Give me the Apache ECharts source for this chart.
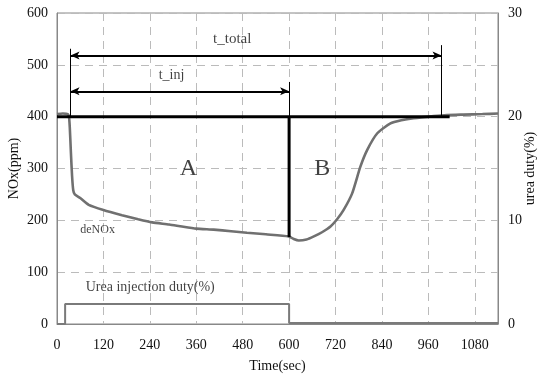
<!DOCTYPE html>
<html>
<head>
<meta charset="utf-8">
<script src="https://cdn.jsdelivr.net/npm/echarts@6/dist/echarts.min.js"></script>
<style>
  html, body { margin: 0; padding: 0; background: #fff; }
  #chart { width: 542px; height: 380px; }
</style>
</head>
<body>
<div id="chart"></div>
<script>
// NOx concentration (ppm) over time (sec)
const noxTime = [0, 15, 28, 31, 33, 36, 39, 42, 46, 60, 82, 120, 168, 210, 246, 290, 323, 360, 405, 450, 491, 540, 599, 612, 625, 645, 664, 685, 707, 725, 741, 763, 784, 802, 828, 862, 890, 922, 974, 1008, 1050, 1100, 1140];
const noxValue = [405, 406, 405, 400, 380, 330, 285, 258, 250, 243, 230, 220, 210, 202, 196, 192, 188, 184, 182, 179, 176, 173, 169, 164, 161, 163, 169, 177, 188, 203, 220, 252, 303, 336, 368, 387, 393, 397, 401, 403, 404, 405, 406];

// Urea injection duty (%) over time (sec)
const dutyTime = [0, 21, 21, 600, 600, 1140];
const dutyValue = [0, 0, 1.93, 1.93, 0.1, 0.1];

// Axis ticks
const xTicks = { min: 0, max: 1140, interval: 120 };
const yLeftTicks = { min: 0, max: 600, interval: 100 };
const yRightTicks = { min: 0, max: 30, interval: 10 };

// Reference levels and interval markers (sec / ppm)
const baseLevel = 400;
const baseEnd = 1015;
const injStart = 35;
const injEnd = 600;
const totalEnd = 994;
const noxAtInjEnd = 168;
const arrowTotalY = 518;
const arrowInjY = 449;
const tickTopStart = 531;
const tickTopInj = 467;
const tickTopTotal = 538;

// Text annotations [time, NOx, text]
const annotations = [
  [453, 549, 't_total'],
  [296, 480, 't_inj'],
  [340, 300, 'A'],
  [686, 300, 'B'],
  [105, 181, 'deNOx'],
  [241, 70, 'Urea injection duty(%)']
];

const serif = '"Liberation Serif", "DejaVu Serif", serif';
const annoFont = { 'A': 24, 'B': 24, 'deNOx': 12, 't_total': 15, 't_inj': 14 };

const chart = echarts.init(document.getElementById('chart'), null, { renderer: 'canvas' });

const zip = (a, b) => a.map((v, i) => [v, b[i]]);

const option = {
  animation: false,
  backgroundColor: '#fff',
  grid: {
    left: 57, right: 44, top: 13, bottom: 56,
    show: true, borderColor: '#888', borderWidth: 1,
    outerBoundsMode: 'none', containLabel: false
  },
  xAxis: {
    type: 'value',
    min: xTicks.min, max: xTicks.max, interval: xTicks.interval,
    name: 'Time(sec)', nameLocation: 'middle', nameGap: 35, nameMoveOverlap: false,
    nameTextStyle: { fontFamily: serif, fontSize: 14, color: '#111' },
    axisLine: { show: true, lineStyle: { color: '#888' } },
    axisTick: { show: false },
    axisLabel: { fontFamily: serif, fontSize: 14, color: '#111', margin: 14, showMaxLabel: false, formatter: v => String(v) },
    splitLine: { show: true, lineStyle: { color: '#bbb', type: [8, 6], width: 1 } }
  },
  yAxis: [
    {
      type: 'value',
      min: yLeftTicks.min, max: yLeftTicks.max, interval: yLeftTicks.interval,
      name: 'NOx(ppm)', nameLocation: 'middle', nameRotate: 90, nameGap: 36, nameMoveOverlap: false,
      nameTextStyle: { fontFamily: serif, fontSize: 14, color: '#111' },
      axisLine: { show: true, lineStyle: { color: '#888' } },
      axisTick: { show: false },
      axisLabel: { fontFamily: serif, fontSize: 14, color: '#111', margin: 9 },
      splitLine: { show: true, lineStyle: { color: '#bbb', type: [8, 6], width: 1 } }
    },
    {
      type: 'value',
      min: yRightTicks.min, max: yRightTicks.max, interval: yRightTicks.interval,
      position: 'right',
      name: 'urea duty(%)', nameLocation: 'middle', nameRotate: 90, nameGap: 25, nameMoveOverlap: false,
      nameTextStyle: { fontFamily: serif, fontSize: 14, color: '#111' },
      axisLine: { show: true, lineStyle: { color: '#888' } },
      axisTick: { show: false },
      axisLabel: { fontFamily: serif, fontSize: 14, color: '#111', margin: 10 },
      splitLine: { show: false }
    }
  ],
  series: [
    {
      name: 'deNOx',
      type: 'line',
      data: zip(noxTime, noxValue),
      showSymbol: false,
      smooth: 0.2,
      lineStyle: { color: '#707070', width: 2.6 },
      z: 3
    },
    {
      name: 'duty',
      type: 'line',
      yAxisIndex: 1,
      data: zip(dutyTime, dutyValue),
      showSymbol: false,
      lineStyle: { color: '#7a7a7a', width: 2 },
      z: 3
    },
    {
      name: 'base',
      type: 'line',
      data: [[0, baseLevel], [baseEnd, baseLevel]],
      showSymbol: false,
      lineStyle: { color: '#000', width: 3 },
      z: 4
    },
    {
      name: 'injEnd',
      type: 'line',
      data: [[injEnd, baseLevel], [injEnd, noxAtInjEnd]],
      showSymbol: false,
      lineStyle: { color: '#000', width: 3 },
      z: 4
    },
    {
      name: 'markers',
      type: 'line',
      data: [],
      markLine: {
        silent: true,
        animation: false,
        symbol: ['none', 'none'],
        label: { show: false },
        lineStyle: { color: '#000', width: 1, type: 'solid' },
        data: [
          [{ coord: [injStart, baseLevel] }, { coord: [injStart, tickTopStart] }],
          [{ coord: [injEnd, baseLevel] }, { coord: [injEnd, tickTopInj] }],
          [{ coord: [totalEnd, baseLevel] }, { coord: [totalEnd, tickTopTotal] }],
          [
            { coord: [injStart, arrowTotalY], symbol: 'arrow', symbolSize: [6, 9], lineStyle: { width: 2 } },
            { coord: [totalEnd, arrowTotalY], symbol: 'arrow', symbolSize: [6, 9] }
          ],
          [
            { coord: [injStart, arrowInjY], symbol: 'arrow', symbolSize: [6, 9], lineStyle: { width: 2 } },
            { coord: [injEnd, arrowInjY], symbol: 'arrow', symbolSize: [6, 9] }
          ]
        ]
      },
      z: 5
    },
    {
      name: 'labels',
      type: 'scatter',
      symbolSize: 0,
      silent: true,
      data: annotations.map(a => ({
        value: [a[0], a[1]],
        name: a[2],
        label: {
          show: true,
          position: 'inside',
          formatter: a[2],
          fontFamily: serif,
          fontSize: annoFont[a[2]] || 14,
          color: '#111'
        }
      })),
      z: 6
    }
  ]
};

chart.setOption(option);
</script>
</body>
</html>
